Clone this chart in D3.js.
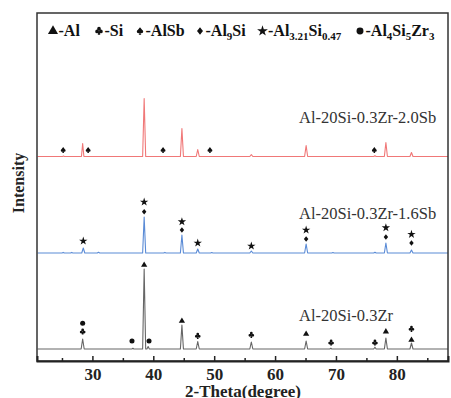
<!DOCTYPE html>
<html>
<head>
<meta charset="utf-8">
<script src="https://cdn.jsdelivr.net/npm/d3@7"></script>
<style>
  html, body { margin: 0; padding: 0; background: #fff; }
  svg { display: block; }
</style>
</head>
<body>
<svg id="chart" width="451" height="398"></svg>
<script>
// XRD patterns, intensity (a.u., above each pattern's own baseline)

const majorTicks = [30, 40, 50, 60, 70, 80];
const minorTicks = [25, 35, 45, 55, 65, 75, 85];

const seriesNames = ["Al-20Si-0.3Zr", "Al-20Si-0.3Zr-1.6Sb", "Al-20Si-0.3Zr-2.0Sb"];
const seriesOffsets = [120, 1080, 2045];

const patternZr = [
    [21, 0], [28.15, 0], [28.4, 100], [28.65, 0], [36.5, 0], [36.65, 8], [36.8, 0],
    [38.25, 0], [38.5, 800], [38.75, 0], [38.95, 0], [39.15, 25], [39.35, 0],
    [44.45, 0], [44.7, 240], [44.95, 0], [47.05, 0], [47.3, 75], [47.55, 0],
    [55.85, 0], [56.1, 70], [56.35, 0], [64.85, 0], [65.1, 80], [65.35, 0],
    [69.0, 0], [69.15, 8], [69.3, 0], [76.2, 0], [76.4, 18], [76.6, 0],
    [77.95, 0], [78.2, 110], [78.45, 0], [82.15, 0], [82.4, 60], [82.65, 0], [88.5, 0]
];

const patternSb16 = [
    [21, 0], [25.0, 0], [25.2, 6], [25.4, 0], [26.4, 0], [26.6, 6], [26.8, 0],
    [28.25, 0], [28.5, 50], [28.75, 0], [30.8, 0], [31.0, 8], [31.2, 0],
    [38.25, 0], [38.5, 360], [38.75, 0], [41.7, 0], [41.9, 6], [42.1, 0],
    [44.45, 0], [44.7, 180], [44.95, 0], [47.05, 0], [47.3, 40], [47.55, 0],
    [49.4, 0], [49.6, 5], [49.8, 0], [55.85, 0], [56.1, 20], [56.35, 0],
    [64.85, 0], [65.1, 90], [65.35, 0], [69.3, 0], [69.5, 5], [69.7, 0],
    [76.2, 0], [76.4, 8], [76.6, 0], [77.95, 0], [78.2, 100], [78.45, 0],
    [82.15, 0], [82.4, 30], [82.65, 0], [88.5, 0]
];

const patternSb20 = [
    [21, 0], [25.1, 0], [25.25, 4], [25.4, 0], [28.2, 0], [28.4, 130], [28.6, 0],
    [38.25, 0], [38.5, 580], [38.75, 0], [44.45, 0], [44.7, 280], [44.95, 0],
    [47.05, 0], [47.3, 70], [47.55, 0], [55.85, 0], [56.1, 18], [56.35, 0],
    [64.85, 0], [65.1, 110], [65.35, 0], [76.2, 0], [76.4, 8], [76.6, 0],
    [77.95, 0], [78.2, 140], [78.45, 0], [82.15, 0], [82.4, 40], [82.65, 0], [88.5, 0]
];

// phase markers: [series index, 2theta, height above baseline, phase]
const phaseMarks = [
    [0, 28.4, 257, "Al4Si5Zr3"], [0, 28.4, 173, "Si"], [0, 36.5, 80, "Al4Si5Zr3"],
    [0, 39.3, 80, "Al4Si5Zr3"], [0, 38.5, 840, "Al"], [0, 44.7, 280, "Al"],
    [0, 47.3, 130, "Si"], [0, 56.1, 140, "Si"], [0, 65.1, 150, "Al"],
    [0, 69.2, 63, "Si"], [0, 76.4, 63, "Si"], [0, 78.2, 173, "Al"],
    [0, 82.4, 200, "Si"], [0, 82.4, 90, "Al"],
    [1, 28.5, 120, "Al3.21Si0.47"], [1, 38.5, 510, "Al3.21Si0.47"], [1, 38.5, 413, "Al9Si"],
    [1, 44.7, 313, "Al3.21Si0.47"], [1, 44.7, 230, "Al9Si"], [1, 47.3, 100, "Al3.21Si0.47"],
    [1, 56.1, 70, "Al3.21Si0.47"], [1, 65.1, 230, "Al3.21Si0.47"], [1, 65.1, 140, "Al9Si"],
    [1, 78.2, 253, "Al3.21Si0.47"], [1, 78.2, 160, "Al9Si"],
    [1, 82.4, 187, "Al3.21Si0.47"], [1, 82.4, 100, "Al9Si"],
    [2, 25.2, 65, "AlSb"], [2, 29.3, 65, "AlSb"], [2, 41.6, 65, "AlSb"],
    [2, 49.3, 65, "AlSb"], [2, 76.3, 65, "AlSb"]
];

const phases = ["Al", "Si", "AlSb", "Al9Si", "Al3.21Si0.47", "Al4Si5Zr3"];
// legend text pieces: [text, is subscript]
const phaseLabels = [
    [["-Al", false]],
    [["-Si", false]],
    [["-AlSb", false]],
    [["-Al", false], ["9", true], ["Si", false]],
    [["-Al", false], ["3.21", true], ["Si", false], ["0.47", true]],
    [["-Al", false], ["4", true], ["Si", false], ["5", true], ["Zr", false], ["3", true]]
];

// ---- custom glyphs for club / spade / round diamond
// all sub-paths go clockwise so nonzero fill keeps the overlaps solid
const symClub = {
    draw(c, size) {
        const r = Math.sqrt(size) * 0.22;
        const dots = [[0, -1.25 * r], [-1.05 * r, 0.25 * r], [1.05 * r, 0.25 * r]];
        dots.forEach(([x, y]) => { c.moveTo(x + r, y); c.arc(x, y, r, 0, Math.PI * 2); });
        c.moveTo(0, 0); c.lineTo(0.7 * r, 2.1 * r); c.lineTo(-0.7 * r, 2.1 * r); c.closePath();
    }
};
const symSpade = {
    draw(c, size) {
        const r = Math.sqrt(size) * 0.22;
        c.moveTo(0, -2.1 * r); c.lineTo(1.75 * r, 0.2 * r); c.lineTo(-1.75 * r, 0.2 * r); c.closePath();
        [[-0.85 * r, 0.3 * r], [0.85 * r, 0.3 * r]].forEach(([x, y]) => {
            c.moveTo(x + 0.9 * r, y); c.arc(x, y, 0.9 * r, 0, Math.PI * 2);
        });
        c.moveTo(0, 0.5 * r); c.lineTo(0.7 * r, 2.1 * r); c.lineTo(-0.7 * r, 2.1 * r); c.closePath();
    }
};
const symDiamond = {
    draw(c, size) {
        const r = Math.sqrt(size) / 2;
        c.moveTo(0, -1.25 * r); c.lineTo(r, 0); c.lineTo(0, 1.25 * r); c.lineTo(-r, 0); c.closePath();
    }
};

const PHASE_SYM = {
    "Al":           [d3.symbolTriangle, 17, 44],
    "Si":           [symClub, 40, 70],
    "AlSb":         [symSpade, 40, 70],
    "Al9Si":        [symDiamond, 20, 36],
    "Al3.21Si0.47": [d3.symbolStar, 22, 36],
    "Al4Si5Zr3":    [d3.symbolCircle, 20, 38]
};

const COLORS = ["#666666", "#5a8bd6", "#f07878"];
const SERIF = "'Liberation Serif', 'Times New Roman', serif";

const svg = d3.select("#chart");
const m = { left: 37, top: 13, right: 448, bottom: 361 };

const x = d3.scaleLinear().domain([20.9, 88.4]).range([m.left, m.right]);
const y = d3.scaleLinear().domain([0, 3480]).range([m.bottom, m.top]);

svg.append("defs").append("clipPath").attr("id", "plot")
    .append("rect")
    .attr("x", m.left).attr("y", m.top)
    .attr("width", m.right - m.left).attr("height", m.bottom - m.top);

// patterns
const patterns = [patternZr, patternSb16, patternSb20];
patterns.forEach((pts, i) => {
    const line = d3.line()
        .x(d => x(d[0]))
        .y(d => y(d[1] + seriesOffsets[i]));
    svg.append("path")
        .attr("clip-path", "url(#plot)")
        .attr("d", line(pts))
        .attr("fill", "none")
        .attr("stroke", COLORS[i])
        .attr("stroke-width", 1.1)
        .attr("stroke-linejoin", "round");
});

// phase markers
svg.append("g")
    .selectAll("path")
    .data(phaseMarks)
    .join("path")
    .attr("transform", d => `translate(${x(d[1])},${y(d[2] + seriesOffsets[d[0]])})`)
    .attr("d", d => d3.symbol().type(PHASE_SYM[d[3]][0]).size(PHASE_SYM[d[3]][1])())
    .attr("fill", "#111");

// series labels
const labelY = [321, 219, 123];
svg.append("g")
    .selectAll("text")
    .data(seriesNames)
    .join("text")
    .attr("x", 299)
    .attr("y", (d, i) => labelY[i])
    .attr("font-family", SERIF)
    .attr("font-size", "16.5px")
    .attr("fill", "#333")
    .text(d => d);

// frame
svg.append("rect")
    .attr("x", m.left).attr("y", m.top)
    .attr("width", m.right - m.left).attr("height", m.bottom - m.top)
    .attr("fill", "none")
    .attr("stroke", "#333")
    .attr("stroke-width", 1.5);

// x axis, ticks pointing inward
const axMajor = svg.append("g")
    .attr("transform", `translate(0,${m.bottom})`)
    .call(d3.axisBottom(x).tickValues(majorTicks).tickSize(-5).tickPadding(7).tickFormat(d3.format("d")));
axMajor.select(".domain").attr("stroke", "#222").attr("stroke-width", 2);
axMajor.selectAll(".tick line").attr("stroke", "#222").attr("stroke-width", 1.5);
axMajor.selectAll(".tick text")
    .attr("font-family", SERIF)
    .attr("font-size", "17px")
    .attr("font-weight", "bold")
    .attr("fill", "#222");

const axMinor = svg.append("g")
    .attr("transform", `translate(0,${m.bottom})`)
    .call(d3.axisBottom(x).tickValues(minorTicks.filter(v => v < 88.4)).tickSize(-3).tickFormat(""));
axMinor.select(".domain").remove();
axMinor.selectAll(".tick line").attr("stroke", "#222").attr("stroke-width", 1.5);

// axis titles
svg.append("text")
    .attr("x", 243).attr("y", 397)
    .attr("text-anchor", "middle")
    .attr("font-family", SERIF)
    .attr("font-size", "17px")
    .attr("font-weight", "bold")
    .attr("fill", "#222")
    .text("2-Theta(degree)");

svg.append("text")
    .attr("transform", "translate(24,183) rotate(-90)")
    .attr("text-anchor", "middle")
    .attr("font-family", SERIF)
    .attr("font-size", "16px")
    .attr("font-weight", "bold")
    .attr("fill", "#222")
    .text("Intensity");

// legend
const legendX = [53, 99, 140, 200, 262.5, 360];
const legend = svg.append("g");
phases.forEach((p, i) => {
    const sym = PHASE_SYM[p];
    legend.append("path")
        .attr("transform", `translate(${legendX[i]},31)`)
        .attr("d", d3.symbol().type(sym[0]).size(sym[2])())
        .attr("fill", "#111");
    const t = legend.append("text")
        .attr("x", legendX[i] + 5.5)
        .attr("y", 36)
        .attr("font-family", SERIF)
        .attr("font-size", "16px")
        .attr("font-weight", "bold")
        .attr("fill", "#111");
    let sub = false;
    phaseLabels[i].forEach(([txt, isSub]) => {
        const ts = t.append("tspan").text(txt);
        if (isSub && !sub) ts.attr("dy", 4).attr("font-size", "11px");
        else if (isSub) ts.attr("font-size", "11px");
        if (!isSub && sub) ts.attr("dy", -4);
        sub = isSub;
    });
});
</script>
</body>
</html>
